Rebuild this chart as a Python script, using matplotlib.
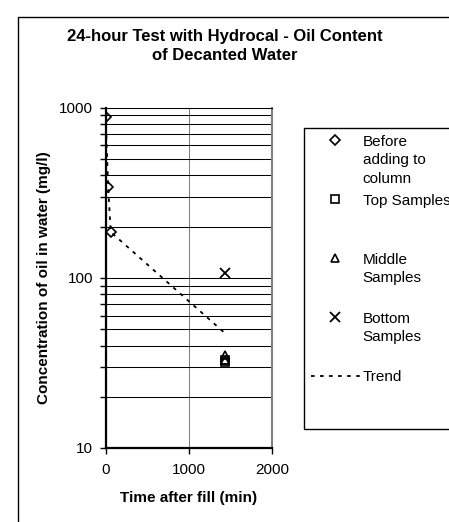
import numpy as np
import matplotlib
matplotlib.use("Agg")
import matplotlib.pyplot as plt
from matplotlib.lines import Line2D
from matplotlib.legend_handler import HandlerLine2D
from matplotlib.patches import Rectangle
from matplotlib.ticker import LogLocator, FixedLocator, FuncFormatter, NullFormatter

plt.rcParams['font.family'] = ['Liberation Sans', 'DejaVu Sans']

# oil content (mg/l) against time after fill (min)
before_t = [0, 30, 60]
before_c = [880, 342, 186]
top_t = [1440, 1440]
top_c = [32, 33]
mid_t = [1440, 1440]
mid_c = [35, 33]
bot_t = [1440]
bot_c = [107]
trend_t = [0, 30, 60, 1440]
trend_c = [880, 342, 186, 47]

labels = ["Before\nadding to\ncolumn", "Top Samples\n\n", "Middle\nSamples\n",
          "Bottom\nSamples\n", "Trend\n\n"]


class FirstLineHandler(HandlerLine2D):
    # put the legend key next to the first line of a 3-line label
    def create_artists(self, legend, orig_handle, xdescent, ydescent,
                       width, height, fontsize, trans):
        arts = super().create_artists(legend, orig_handle, xdescent, ydescent,
                                      width, height, fontsize, trans)
        for a in arts:
            a.set_ydata(np.asarray(a.get_ydata()) + 1.33 * fontsize)
        return arts


fig = plt.figure(figsize=(4.49, 5.22), dpi=100)
ax = fig.add_axes([0.2354, 0.1418, 0.6058 - 0.2354, 0.7937 - 0.1418])

mk = dict(linestyle='none', color='black', mfc='none', mew=1.2)
h1, = ax.plot(before_t, before_c, marker='D', ms=5, **mk)
h2, = ax.plot(top_t, top_c, marker='s', ms=6, **mk)
h3, = ax.plot(mid_t, mid_c, marker='^', ms=6, **mk)
h4, = ax.plot(bot_t, bot_c, marker='x', ms=7, linestyle='none', color='black', mew=1.3)
h5, = ax.plot(trend_t, trend_c, color='black', lw=1.3, linestyle=(0, (2, 3)))

ax.set_yscale('log')
ax.set_xlim(0, 2000)
ax.set_ylim(10, 1000)
ax.xaxis.set_major_locator(FixedLocator([0, 1000, 2000]))
ax.yaxis.set_major_locator(LogLocator(base=10))
ax.yaxis.set_minor_locator(LogLocator(base=10, subs=np.arange(2, 10)))
ax.yaxis.set_major_formatter(FuncFormatter(lambda v, p: f"{v:g}"))
ax.yaxis.set_minor_formatter(NullFormatter())

ax.grid(True, which='both', axis='y', color='black', lw=0.75)
ax.grid(True, which='major', axis='x', color='#808080', lw=0.75)
ax.set_axisbelow(True)

ax.tick_params(axis='both', which='both', direction='out', length=4, width=1,
               labelsize=11, pad=5, color='black')
ax.tick_params(axis='x', pad=7)
for s in ['left', 'bottom']:
    ax.spines[s].set_linewidth(1.6)
    ax.spines[s].set_color('black')
ax.spines['right'].set_linewidth(1.5)
ax.spines['right'].set_color('#808080')
ax.spines['top'].set_linewidth(0.75)
ax.spines['top'].set_color('black')

ax.set_xlabel("Time after fill (min)", fontsize=11, fontweight='bold', labelpad=10)
ax.set_ylabel("Concentration of oil in water (mg/l)", fontsize=11,
              fontweight='bold', va='center')
ax.yaxis.set_label_coords(-0.371, 0.5)

fig.suptitle("24-hour Test with Hydrocal - Oil Content\nof Decanted Water",
             x=0.5, y=1 - 46 / 522, va='center', fontsize=12, fontweight='bold',
             linespacing=1.3)

leg = fig.legend([h1, h2, h3, h4, h5], labels, loc='upper left',
                 bbox_to_anchor=(304 / 449, 1 - 128 / 522), borderaxespad=0,
                 fontsize=11, numpoints=1, handlelength=3.2, handletextpad=0.2,
                 borderpad=0.45, labelspacing=0.5, fancybox=False,
                 edgecolor='black', framealpha=1,
                 handler_map={Line2D: FirstLineHandler()})
leg.get_frame().set_linewidth(1.0)
for t in leg.get_texts():
    t.set_linespacing(1.42)

# chart area border
fig.patches.append(Rectangle((18 / 449, -0.1), 1.2, 1 - 17 / 522 + 0.1,
                             transform=fig.transFigure, fill=False,
                             edgecolor='black', lw=1.0, zorder=0))

fig.savefig("out.png", dpi=100)
